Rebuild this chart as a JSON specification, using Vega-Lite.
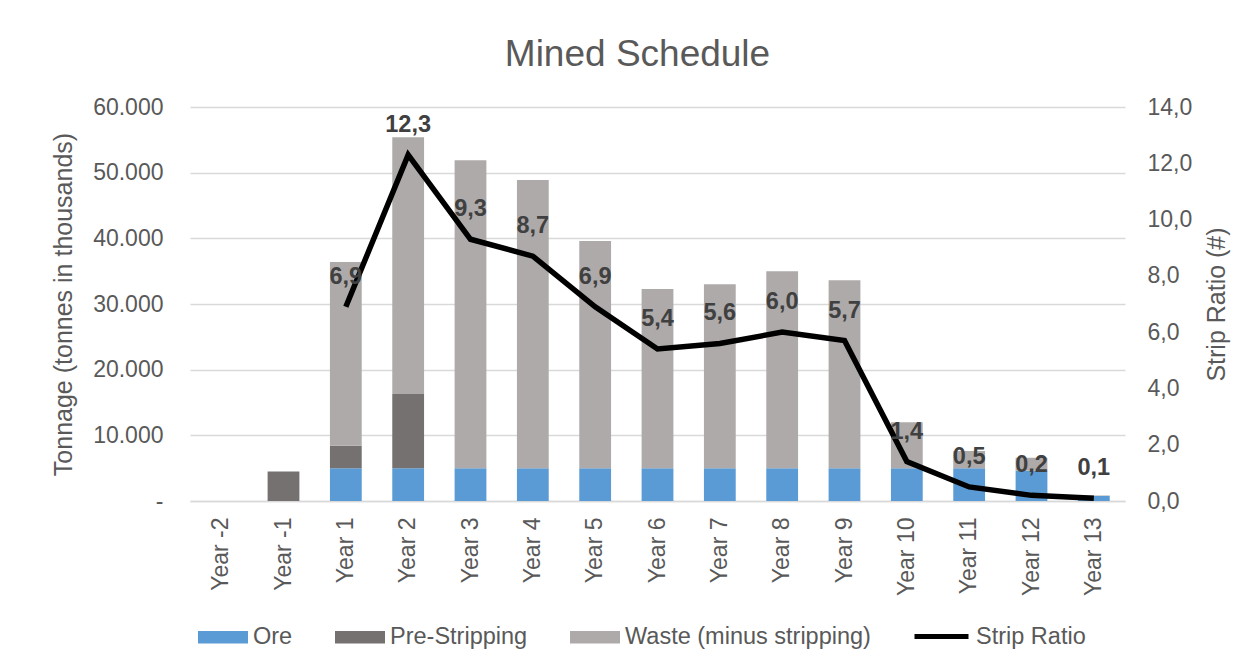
{
  "$schema": "https://vega.github.io/schema/vega-lite/v6.json",
  "width": 935,
  "height": 394,
  "autosize": {"type": "none"},
  "padding": {"left": 190, "top": 107, "right": 127, "bottom": 167},
  "background": "white",
  "config": {
    "locale": {"number": {"decimal": ",", "thousands": ".", "grouping": [3], "currency": ["", "€"]}},
    "font": "Liberation Sans",
    "view": {"stroke": null},
    "axis": {
      "labelFont": "Liberation Sans",
      "titleFont": "Liberation Sans",
      "labelColor": "#595959",
      "titleColor": "#595959",
      "labelFontSize": 23,
      "titleFontSize": 25,
      "titleFontWeight": "normal",
      "ticks": false,
      "domain": false,
      "gridColor": "#D9D9D9",
      "gridWidth": 1.5
    },
    "legend": {
      "labelFont": "Liberation Sans",
      "labelFontSize": 23.5,
      "labelColor": "#595959",
      "labelLimit": 400
    }
  },
  "title": {
    "text": "Mined Schedule",
    "font": "Liberation Sans",
    "fontSize": 37,
    "fontWeight": "normal",
    "color": "#595959",
    "anchor": "middle",
    "frame": "group",
    "dx": -20,
    "offset": 22
  },
  "datasets": {
    "bars": [
      {"year": "Year -2", "type": "Ore", "ord": 1, "value": 0},
      {"year": "Year -2", "type": "Pre-Stripping", "ord": 2, "value": 0},
      {"year": "Year -2", "type": "Waste (minus stripping)", "ord": 3, "value": 0},
      {"year": "Year -1", "type": "Ore", "ord": 1, "value": 0},
      {"year": "Year -1", "type": "Pre-Stripping", "ord": 2, "value": 4500},
      {"year": "Year -1", "type": "Waste (minus stripping)", "ord": 3, "value": 0},
      {"year": "Year 1", "type": "Ore", "ord": 1, "value": 5000},
      {"year": "Year 1", "type": "Pre-Stripping", "ord": 2, "value": 3400},
      {"year": "Year 1", "type": "Waste (minus stripping)", "ord": 3, "value": 28000},
      {"year": "Year 2", "type": "Ore", "ord": 1, "value": 5000},
      {"year": "Year 2", "type": "Pre-Stripping", "ord": 2, "value": 11300},
      {"year": "Year 2", "type": "Waste (minus stripping)", "ord": 3, "value": 39100},
      {"year": "Year 3", "type": "Ore", "ord": 1, "value": 5000},
      {"year": "Year 3", "type": "Pre-Stripping", "ord": 2, "value": 0},
      {"year": "Year 3", "type": "Waste (minus stripping)", "ord": 3, "value": 46900},
      {"year": "Year 4", "type": "Ore", "ord": 1, "value": 5000},
      {"year": "Year 4", "type": "Pre-Stripping", "ord": 2, "value": 0},
      {"year": "Year 4", "type": "Waste (minus stripping)", "ord": 3, "value": 43900},
      {"year": "Year 5", "type": "Ore", "ord": 1, "value": 5000},
      {"year": "Year 5", "type": "Pre-Stripping", "ord": 2, "value": 0},
      {"year": "Year 5", "type": "Waste (minus stripping)", "ord": 3, "value": 34600},
      {"year": "Year 6", "type": "Ore", "ord": 1, "value": 5000},
      {"year": "Year 6", "type": "Pre-Stripping", "ord": 2, "value": 0},
      {"year": "Year 6", "type": "Waste (minus stripping)", "ord": 3, "value": 27300},
      {"year": "Year 7", "type": "Ore", "ord": 1, "value": 5000},
      {"year": "Year 7", "type": "Pre-Stripping", "ord": 2, "value": 0},
      {"year": "Year 7", "type": "Waste (minus stripping)", "ord": 3, "value": 28000},
      {"year": "Year 8", "type": "Ore", "ord": 1, "value": 5000},
      {"year": "Year 8", "type": "Pre-Stripping", "ord": 2, "value": 0},
      {"year": "Year 8", "type": "Waste (minus stripping)", "ord": 3, "value": 30000},
      {"year": "Year 9", "type": "Ore", "ord": 1, "value": 5000},
      {"year": "Year 9", "type": "Pre-Stripping", "ord": 2, "value": 0},
      {"year": "Year 9", "type": "Waste (minus stripping)", "ord": 3, "value": 28600},
      {"year": "Year 10", "type": "Ore", "ord": 1, "value": 5000},
      {"year": "Year 10", "type": "Pre-Stripping", "ord": 2, "value": 0},
      {"year": "Year 10", "type": "Waste (minus stripping)", "ord": 3, "value": 7000},
      {"year": "Year 11", "type": "Ore", "ord": 1, "value": 5000},
      {"year": "Year 11", "type": "Pre-Stripping", "ord": 2, "value": 0},
      {"year": "Year 11", "type": "Waste (minus stripping)", "ord": 3, "value": 2600},
      {"year": "Year 12", "type": "Ore", "ord": 1, "value": 4600},
      {"year": "Year 12", "type": "Pre-Stripping", "ord": 2, "value": 0},
      {"year": "Year 12", "type": "Waste (minus stripping)", "ord": 3, "value": 2000},
      {"year": "Year 13", "type": "Ore", "ord": 1, "value": 750},
      {"year": "Year 13", "type": "Pre-Stripping", "ord": 2, "value": 0},
      {"year": "Year 13", "type": "Waste (minus stripping)", "ord": 3, "value": 80}
    ],
    "ratio": [
      {"year": "Year 1", "ratio": 6.9},
      {"year": "Year 2", "ratio": 12.3},
      {"year": "Year 3", "ratio": 9.3},
      {"year": "Year 4", "ratio": 8.7},
      {"year": "Year 5", "ratio": 6.9},
      {"year": "Year 6", "ratio": 5.4},
      {"year": "Year 7", "ratio": 5.6},
      {"year": "Year 8", "ratio": 6.0},
      {"year": "Year 9", "ratio": 5.7},
      {"year": "Year 10", "ratio": 1.4},
      {"year": "Year 11", "ratio": 0.5},
      {"year": "Year 12", "ratio": 0.2},
      {"year": "Year 13", "ratio": 0.1}
    ]
  },
  "encoding": {
    "x": {
      "field": "year",
      "type": "nominal",
      "sort": null,
      "scale": {
        "domain": ["Year -2", "Year -1", "Year 1", "Year 2", "Year 3", "Year 4", "Year 5", "Year 6", "Year 7", "Year 8", "Year 9", "Year 10", "Year 11", "Year 12", "Year 13"],
        "paddingInner": 0.49,
        "paddingOuter": 0.245
      },
      "axis": {
        "title": null,
        "labelAngle": -90,
        "labelPadding": 16,
        "domain": true,
        "domainColor": "#D9D9D9",
        "domainWidth": 1.5,
        "grid": false
      }
    }
  },
  "layer": [
    {
      "data": {"name": "bars"},
      "mark": {"type": "bar"},
      "encoding": {
        "y": {
          "field": "value",
          "type": "quantitative",
          "stack": "zero",
          "scale": {"domain": [0, 60000], "nice": false},
          "axis": {
            "orient": "left",
            "title": "Tonnage (tonnes in thousands)",
            "values": [0, 10000, 20000, 30000, 40000, 50000, 60000],
            "format": ",.0f",
            "labelExpr": "datum.value === 0 ? '-  ' : datum.label",
            "labelPadding": 27,
            "titlePadding": 16,
            "grid": true
          }
        },
        "color": {
          "field": "type",
          "type": "nominal",
          "scale": {
            "domain": ["Ore", "Pre-Stripping", "Waste (minus stripping)"],
            "range": ["#5B9BD5", "#767171", "#AEAAAA"]
          },
          "legend": {
            "title": null,
            "orient": "none",
            "legendX": 8,
            "legendY": 505,
            "direction": "horizontal",
            "symbolType": "M-1,-0.25H1V0.25H-1Z",
            "symbolSize": 2500,
            "symbolStrokeWidth": 0,
            "columnPadding": 42,
            "labelOffset": 5
          }
        },
        "order": {"field": "ord", "type": "quantitative"}
      }
    },
    {
      "data": {"name": "ratio"},
      "mark": {"type": "line", "strokeWidth": 5.5},
      "encoding": {
        "y": {
          "field": "ratio",
          "type": "quantitative",
          "scale": {"domain": [0, 14], "nice": false},
          "axis": {
            "orient": "right",
            "title": "Strip Ratio (#)",
            "titleAngle": 270,
            "values": [0, 2, 4, 6, 8, 10, 12, 14],
            "format": ".1f",
            "labelPadding": 22,
            "titlePadding": 38,
            "grid": false
          }
        },
        "stroke": {
          "datum": "Strip Ratio",
          "type": "nominal",
          "scale": {"range": ["#000000"]},
          "legend": {
            "title": null,
            "orient": "none",
            "legendX": 722,
            "legendY": 500,
            "symbolType": "stroke",
            "symbolSize": 2916,
            "symbolStrokeWidth": 5,
            "labelOffset": 5
          }
        }
      }
    },
    {
      "data": {"name": "ratio"},
      "mark": {"type": "text", "dy": -30, "fontSize": 23.5, "fontWeight": "bold", "color": "#404040", "font": "Liberation Sans"},
      "encoding": {
        "y": {
          "field": "ratio",
          "type": "quantitative",
          "scale": {"domain": [0, 14], "nice": false},
          "axis": null
        },
        "text": {"field": "ratio", "type": "quantitative", "format": ".1f"}
      }
    }
  ],
  "resolve": {"scale": {"y": "independent", "color": "independent", "stroke": "independent"}}
}
